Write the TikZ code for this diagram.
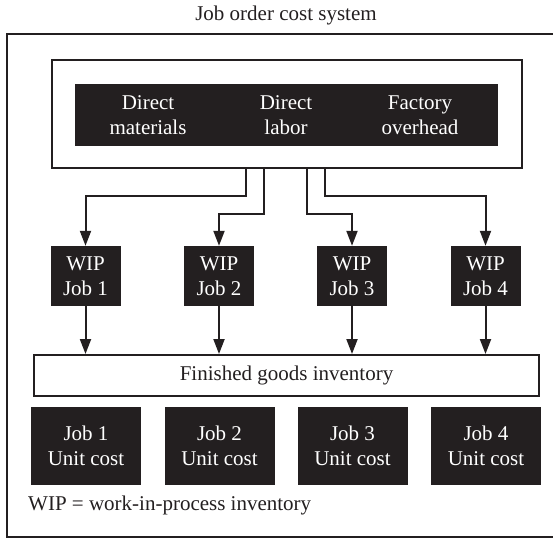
\documentclass[tikz,border=0pt]{standalone}
\usepackage{fontspec}
\setmainfont{Liberation Serif}
\usetikzlibrary{arrows.meta}
\definecolor{ink}{HTML}{231F20}
\begin{document}
\begin{tikzpicture}[x=1pt,y=-1pt,
  frame/.style={draw=ink, line width=2pt},
  txt/.style={font=\fontsize{21}{24.5}\selectfont, inner sep=0pt, align=center},
  darkbox/.style={txt, fill=ink, draw=none, text=white},
  whitebox/.style={txt, draw=ink, line width=2pt, fill=white, text=ink},
  wipbox/.style={darkbox, minimum width=70pt, minimum height=60pt},
  jobbox/.style={darkbox, minimum width=110pt, minimum height=78pt},
  conn/.style={draw=ink, line width=2pt, -{Triangle[length=15pt,width=11pt]}}
]
\useasboundingbox (0,0) rectangle (553,539);
\draw[frame] (560,34) -- (7,34) -- (7,537) -- (560,537);

\node[txt, text=ink] (title) at (286,15) {Job order cost system};

\node[whitebox, minimum width=470pt, minimum height=108pt] (top) at (287,114) {};
\node[darkbox, minimum width=423pt, minimum height=62pt] (src) at (286.5,115) {};
\node[txt, text=white] (dm) at (148,115) {Direct\\materials};
\node[txt, text=white] (dl) at (286,115) {Direct\\labor};
\node[txt, text=white] (fo) at (420,115) {Factory\\overhead};

\node[wipbox] (w1) at (85.5,276) {WIP\\Job 1};
\node[wipbox] (w2) at (219,276) {WIP\\Job 2};
\node[wipbox] (w3) at (352,276) {WIP\\Job 3};
\node[wipbox] (w4) at (485.5,276) {WIP\\Job 4};

\draw[conn] ([xshift=-41pt]top.south) -- ++(0,27) -| (w1.north);
\draw[conn] ([xshift=-23pt]top.south) -- ++(0,45) -| (w2.north);
\draw[conn] ([xshift=20pt]top.south) -- ++(0,45) -| (w3.north);
\draw[conn] ([xshift=38pt]top.south) -- ++(0,27) -| (w4.north);

\node[whitebox, minimum width=505pt, minimum height=41pt] (fg) at (286.5,375.5) {Finished goods inventory};

\foreach \i in {1,...,4}{
  \draw[conn] (w\i.south) -- (w\i.south |- fg.north);
}

\node[jobbox] (j1) at (86,446) {Job 1\\Unit cost};
\node[jobbox] (j2) at (219.5,446) {Job 2\\Unit cost};
\node[jobbox] (j3) at (352.5,446) {Job 3\\Unit cost};
\node[jobbox] (j4) at (486,446) {Job 4\\Unit cost};

\node[txt, text=ink, anchor=west] (leg) at (28,505) {WIP = work-in-process inventory};
\end{tikzpicture}
\end{document}
